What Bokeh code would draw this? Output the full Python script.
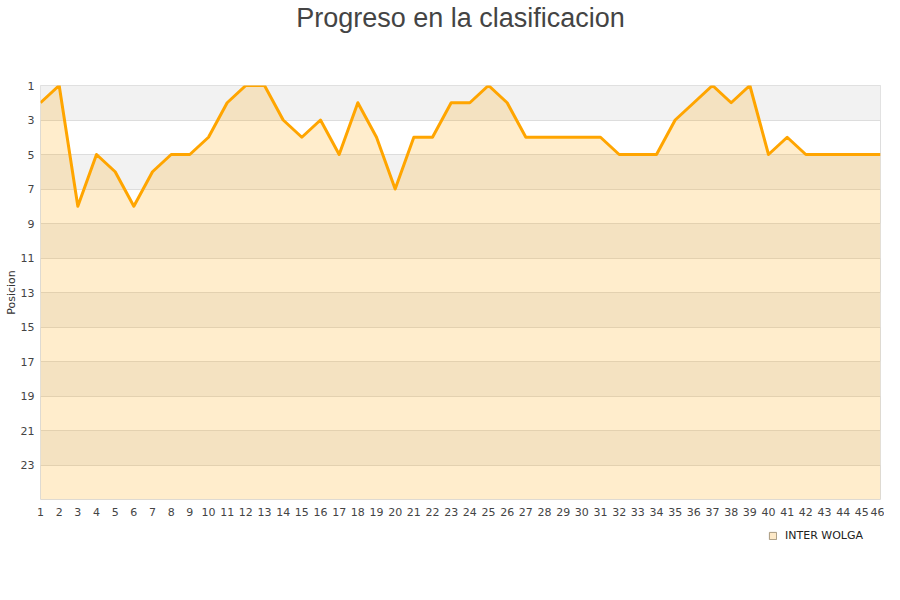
from bokeh.plotting import figure
from bokeh.models import Range1d, FixedTicker, Legend, LegendItem, Title
from bokeh.layouts import column
from bokeh.embed import file_html
from bokeh.resources import INLINE

title_text = "Progreso en la clasificacion"
series_name = "INTER WOLGA"
jornadas = list(range(1, 47))
posiciones = [2, 1, 8, 5, 6, 8, 6, 5, 5, 4,
              2, 1, 1, 3, 4, 3, 5, 2, 4, 7,
              4, 4, 2, 2, 1, 2, 4, 4, 4, 4,
              4, 5, 5, 5, 3, 2, 1, 2, 1, 5,
              4, 5, 5, 5, 5, 5]
y_ticks = [1, 3, 5, 7, 9, 11, 13, 15, 17, 19, 21, 23]
y_min, y_max = 1, 25

p = figure(frame_width=840, frame_height=414, output_backend="svg", toolbar_location=None,
           x_range=Range1d(1, 46), y_range=Range1d(y_max, y_min),
           min_border_left=40, min_border_right=4, min_border_top=0, min_border_bottom=26,
           background_fill_color="white", border_fill_color="white", title=None)

# spacer between title and frame, then the title itself (outermost)
p.add_layout(Title(text=" ", text_font_size="10px", standoff=40), "above")
p.add_layout(Title(text=title_text, align="center", text_font="Liberation Sans",
                   text_font_size="27px", text_font_style="normal",
                   text_color="#444444", standoff=0), "above")

p.outline_line_color = "#dddddd"
p.xgrid.visible = False
p.ygrid.visible = False

# alternating bands
band_tops = y_ticks[0::2]
band_bottoms = [t + 2 for t in band_tops]
p.quad(left=1, right=46, top=band_tops, bottom=band_bottoms,
       fill_color="#f2f2f2", line_color=None)
# grid lines
p.hspan(y=y_ticks, line_color="#dddddd", line_width=1)

# area + line
p.varea(x=jornadas, y1=posiciones, y2=y_max, fill_color="#ffa500", fill_alpha=0.2)
p.line(jornadas, posiciones, line_color="#ffa500", line_width=3, line_join="round")

p.xaxis.ticker = FixedTicker(ticks=jornadas)
p.yaxis.ticker = FixedTicker(ticks=y_ticks)
for ax in (p.xaxis[0], p.yaxis[0]):
    ax.axis_line_color = None
    ax.major_tick_line_color = None
    ax.minor_tick_line_color = None
    ax.major_tick_out = 0
    ax.major_tick_in = 0
    ax.minor_tick_out = 0
    ax.minor_tick_in = 0
    ax.major_label_text_font = "DejaVu Sans"
    ax.major_label_text_font_size = "11px"
    ax.major_label_text_color = "#444444"
p.xaxis.major_label_standoff = 8
p.yaxis.major_label_standoff = 6
p.yaxis.axis_label = "Posicion"
p.yaxis.axis_label_text_font = "DejaVu Sans"
p.yaxis.axis_label_text_font_size = "11px"
p.yaxis.axis_label_text_font_style = "normal"
p.yaxis.axis_label_text_color = "#333333"
p.yaxis.axis_label_standoff = 0

# legend strip below the chart (its frame lines up with the chart frame)
lg = figure(width=884, height=58, output_backend="svg", toolbar_location=None,
            x_range=Range1d(0, 1), y_range=Range1d(0, 1),
            min_border_left=0, min_border_right=0, min_border_top=0, min_border_bottom=0,
            outline_line_color=None, background_fill_color="white",
            border_fill_color="white", title=None)
lg.axis.visible = False
lg.grid.visible = False
# off-range dummy so the legend swatch has a style to draw
leg_r = lg.quad(left=[2], right=[3], top=[3], bottom=[2],
                fill_color="#fde9c8", line_color="#a89a80", line_width=1)
legend = Legend(items=[LegendItem(label=series_name, renderers=[leg_r])],
                location=(728, 41), orientation="horizontal",
                border_line_color=None, background_fill_alpha=0,
                label_text_font="DejaVu Sans", label_text_font_size="11px",
                label_text_color="#222222", glyph_width=9, glyph_height=9,
                label_standoff=8, padding=4, margin=0, spacing=0,
                label_height=9)
lg.add_layout(legend, "center")

layout = column(p, lg, spacing=0)
open("out.html", "w").write(file_html(layout, INLINE))
